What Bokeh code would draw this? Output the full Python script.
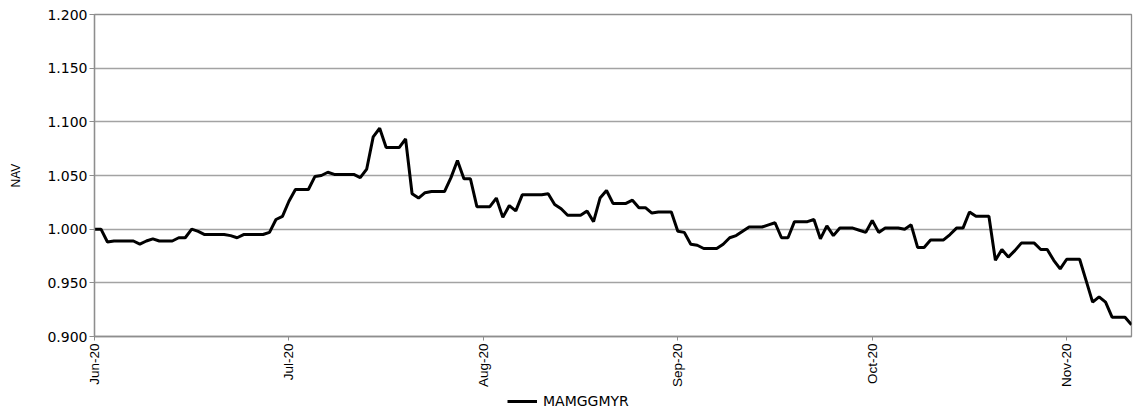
from bokeh.plotting import figure
from bokeh.layouts import column
from bokeh.models import FixedTicker, Legend, LegendItem, Range1d, PrintfTickFormatter, ColumnDataSource
from bokeh.embed import file_html
from bokeh.resources import INLINE
import math

series_name = "MAMGGMYR"
tick_positions = [0, 30, 60, 90, 120, 150]
tick_labels = ["Jun-20", "Jul-20", "Aug-20", "Sep-20", "Oct-20", "Nov-20"]
y_ticks = [0.90, 0.95, 1.00, 1.05, 1.10, 1.15, 1.20]

nav = [
    1.000, 1.000, 0.988, 0.989, 0.989, 0.989, 0.989, 0.986, 0.989, 0.991,
    0.989, 0.989, 0.989, 0.992, 0.992, 1.000, 0.998, 0.995, 0.995, 0.995,
    0.995, 0.994, 0.992, 0.995, 0.995, 0.995, 0.995, 0.997, 1.009, 1.012,
    1.026, 1.037, 1.037, 1.037, 1.049, 1.050, 1.053, 1.051, 1.051, 1.051,
    1.051, 1.048, 1.056, 1.086, 1.094, 1.076, 1.076, 1.076, 1.084, 1.033,
    1.029, 1.034, 1.035, 1.035, 1.035, 1.048, 1.064, 1.047, 1.047, 1.021,
    1.021, 1.021, 1.029, 1.011, 1.022, 1.017, 1.032, 1.032, 1.032, 1.032,
    1.033, 1.023, 1.019, 1.013, 1.013, 1.013, 1.017, 1.007, 1.029, 1.036,
    1.024, 1.024, 1.024, 1.027, 1.020, 1.020, 1.015, 1.016, 1.016, 1.016,
    0.998, 0.997, 0.986, 0.985, 0.982, 0.982, 0.982, 0.986, 0.992, 0.994,
    0.998, 1.002, 1.002, 1.002, 1.004, 1.006, 0.992, 0.992, 1.007, 1.007,
    1.007, 1.009, 0.991, 1.003, 0.994, 1.001, 1.001, 1.001, 0.999, 0.997,
    1.008, 0.997, 1.001, 1.001, 1.001, 1.000, 1.004, 0.983, 0.983, 0.990,
    0.990, 0.990, 0.995, 1.001, 1.001, 1.016, 1.012, 1.012, 1.012, 0.971,
    0.981, 0.974, 0.980, 0.987, 0.987, 0.987, 0.981, 0.981, 0.971, 0.963,
    0.972, 0.972, 0.972, 0.952, 0.932, 0.937, 0.932, 0.918, 0.918, 0.918,
    0.911,
]
day_index = list(range(len(nav)))

src = ColumnDataSource(dict(x=day_index, y=nav))

p = figure(width=1139, height=390, output_backend="svg", toolbar_location=None,
           x_range=Range1d(0, len(nav) - 1), y_range=Range1d(0.9, 1.2),
           min_border_left=94, min_border_right=8, min_border_top=14, min_border_bottom=54)
p.background_fill_color = "white"
p.border_fill_color = "white"
p.outline_line_color = "#8e8e8e"
p.outline_line_width = 1.3

line_style = dict(line_color="black", line_width=3)
r = p.line("x", "y", source=src, **line_style)

grid_color = "#a3a3a3"
p.xgrid.grid_line_color = None
p.ygrid.ticker = FixedTicker(ticks=y_ticks)
p.ygrid.grid_line_color = grid_color
p.ygrid.grid_line_width = 1.3

# y axis
p.yaxis.ticker = FixedTicker(ticks=y_ticks)
p.yaxis.formatter = PrintfTickFormatter(format="%.3f")
p.yaxis.axis_label = "NAV"
p.yaxis.axis_label_text_font = "Liberation Sans"
p.yaxis.axis_label_text_font_size = "12px"
p.yaxis.axis_label_text_font_style = "normal"
p.yaxis.axis_label_text_color = "black"
p.yaxis.axis_label_standoff = 21
p.yaxis.major_label_text_font = "DejaVu Sans"
p.yaxis.major_label_text_font_size = "14px"
p.yaxis.major_label_text_color = "black"
p.yaxis.major_tick_out = 5
p.yaxis.major_tick_in = 0
p.yaxis.minor_tick_out = 0
p.yaxis.minor_tick_in = 0
p.yaxis.major_label_standoff = 2
p.yaxis.axis_line_color = "#8e8e8e"
p.yaxis.axis_line_width = 1.3
p.yaxis.major_tick_line_color = "#8e8e8e"

# x axis
p.xaxis.ticker = FixedTicker(ticks=tick_positions)
p.xaxis.major_label_overrides = {t: l for t, l in zip(tick_positions, tick_labels)}
p.xaxis.major_label_orientation = math.pi / 2
p.xaxis.major_label_text_font = "Liberation Sans"
p.xaxis.major_label_text_font_size = "13.5px"
p.xaxis.major_label_text_color = "black"
p.xaxis.major_tick_out = 4
p.xaxis.major_tick_in = 0
p.xaxis.minor_tick_out = 0
p.xaxis.minor_tick_in = 0
p.xaxis.major_label_standoff = 3
p.xaxis.axis_line_color = "#8e8e8e"
p.xaxis.axis_line_width = 1.3
p.xaxis.major_tick_line_color = "#8e8e8e"

# legend strip under the chart (its line sits outside the strip's visible range)
p2 = figure(width=1139, height=21, output_backend="svg", toolbar_location=None,
            x_range=Range1d(0, len(nav) - 1), y_range=Range1d(0.0, 0.5),
            x_axis_type=None, y_axis_type=None,
            min_border_left=94, min_border_right=8, min_border_top=0, min_border_bottom=0)
p2.outline_line_color = None
p2.background_fill_color = "white"
p2.border_fill_color = "white"
p2.xgrid.grid_line_color = None
p2.ygrid.grid_line_color = None
r2 = p2.line("x", "y", source=src, **line_style)
legend = Legend(items=[LegendItem(label=series_name, renderers=[r2])],
                location=(413, 2), orientation="horizontal",
                padding=0, margin=0, glyph_width=30, glyph_height=14,
                label_standoff=6, border_line_color=None, background_fill_alpha=0,
                label_text_font="DejaVu Sans", label_text_font_size="14px",
                label_text_color="black")
p2.add_layout(legend, "center")

layout = column(p, p2, spacing=0)
open("out.html", "w").write(file_html(layout, INLINE))
